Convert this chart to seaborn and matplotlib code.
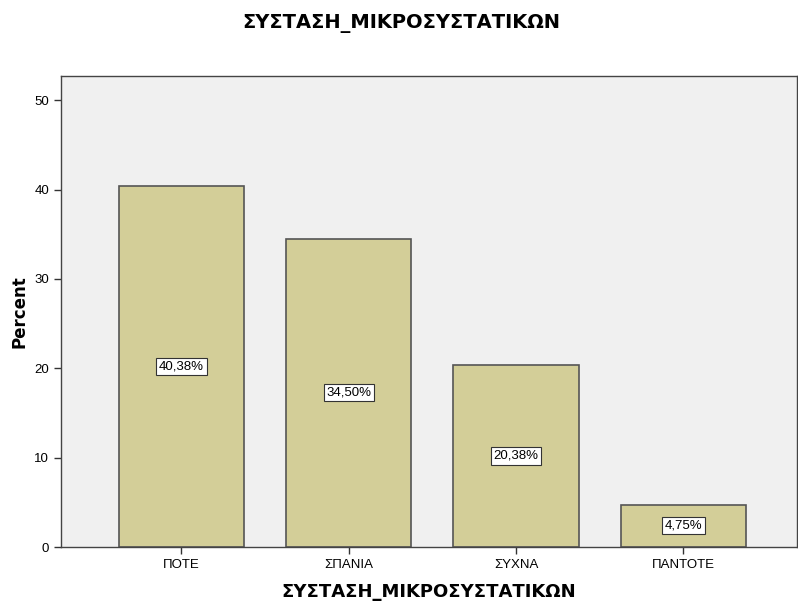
import matplotlib
matplotlib.use("Agg")
import matplotlib.pyplot as plt
import seaborn as sns
import pandas as pd

# ── Dados ────────────────────────────────────────────────────────────────────
categories = ["ΠΟΤΕ", "ΣΠΑΝΙΑ", "ΣΥΧΝΑ", "ΠΑΝΤΟΤΕ"]
percent = [40.38, 34.50, 20.38, 4.75]
labels = ["40,38%", "34,50%", "20,38%", "4,75%"]
title = "ΣΥΣΤΑΣΗ_ΜΙΚΡΟΣΥΣΤΑΤΙΚΩΝ"

sns.set_style("white")
plt.rcParams["font.family"] = ["Liberation Sans", "DejaVu Sans"]
plt.rcParams["text.color"] = "black"
plt.rcParams["axes.labelcolor"] = "black"
plt.rcParams["xtick.color"] = "black"
plt.rcParams["ytick.color"] = "black"

df = pd.DataFrame({"cat": categories, "pct": percent})

fig = plt.figure(figsize=(7.98, 6.08), dpi=100)
ax = fig.add_axes([0.0764, 0.1003, 0.9224, 0.7747])
ax.set_facecolor("#F0F0F0")

sns.barplot(data=df, x="cat", y="pct", color="#D3CE98", saturation=1,
            width=0.75, edgecolor="#555555", linewidth=1.2, ax=ax)

for i, (v, lab) in enumerate(zip(percent, labels)):
    ax.text(i, v / 2, lab, ha="center", va="center", fontsize=9.5,
            bbox=dict(boxstyle="square,pad=0.2", fc="white", ec="#333333", lw=0.8))

ax.set_xlim(-0.72, 3.68)
ax.set_ylim(0, 52.7)
ax.set_yticks([0, 10, 20, 30, 40, 50])
ax.tick_params(axis="both", length=5, width=1, color="#333333",
               labelsize=9.5, direction="out", bottom=True, left=True)
for s in ax.spines.values():
    s.set_color("#444444")
    s.set_linewidth(1)

ax.set_xlabel(title, fontsize=13, fontweight="bold", labelpad=9, family="DejaVu Sans")
ax.set_ylabel("Percent", fontsize=12, fontweight="bold", labelpad=4, family="DejaVu Sans")
fig.text(0.503, 0.962, title, ha="center", va="center", fontsize=14,
         fontweight="bold", family="DejaVu Sans")

fig.savefig("out.png", dpi=100)
